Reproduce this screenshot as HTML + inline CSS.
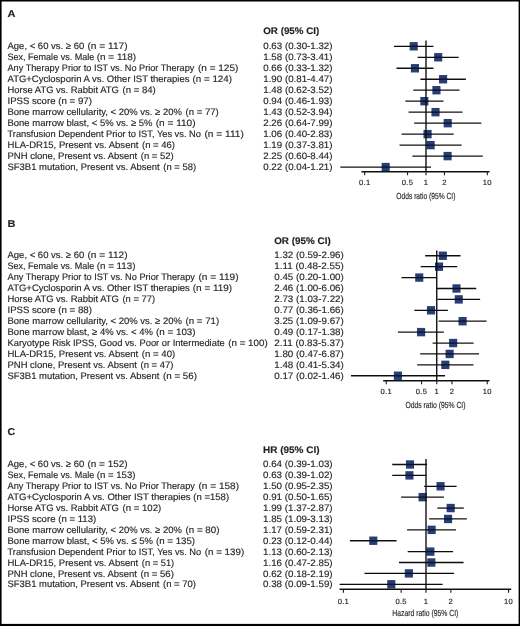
<!DOCTYPE html>
<html><head><meta charset="utf-8"><title>Forest plots</title>
<style>html,body{margin:0;padding:0;background:#fff}svg{display:block}text{font-family:"Liberation Sans",sans-serif;text-rendering:geometricPrecision;fill:#231f20;stroke:#231f20;stroke-width:0.15px}</style></head>
<body><svg width="520" height="626" viewBox="0 0 520 626">
<rect x="0" y="0" width="520" height="626" fill="#fff"/>
<defs><filter id="bl" x="-5" y="-5" width="530" height="636" filterUnits="userSpaceOnUse"><feGaussianBlur stdDeviation="0.45"/></filter></defs>
<g filter="url(#bl)">
<rect x="-4" y="-4" width="528" height="5.5" fill="#000"/><rect x="-4" y="-4" width="5.6" height="634" fill="#000"/><rect x="518.6" y="-4" width="6" height="634" fill="#000"/><rect x="-4" y="623.9" width="528" height="6" fill="#000"/>
<text transform="translate(7.50 16.90) scale(1.100 1)" font-size="10" font-weight="bold" fill="#000" stroke="#000" stroke-width="0.3">A</text>
<text x="263.25" y="34.30" font-size="9.6" font-weight="bold" fill="#000" stroke="#000" stroke-width="0.3" textLength="56.00" lengthAdjust="spacingAndGlyphs">OR (95% CI)</text>
<text x="7.50" y="48.60" font-size="9.40" textLength="76.75" lengthAdjust="spacingAndGlyphs">Age, &lt; 60 vs. ≥ 60</text>
<text x="87.50" y="48.60" font-size="9.40" textLength="40.00" lengthAdjust="spacingAndGlyphs">(n = 117)</text>
<text x="263.25" y="48.60" font-size="9.40" textLength="69.25" lengthAdjust="spacingAndGlyphs">0.63 (0.30-1.32)</text>
<line x1="393.95" y1="46.30" x2="433.39" y2="46.30" stroke="#111" stroke-width="1.3"/>
<rect x="409.65" y="42.10" width="8.10" height="8.40" fill="#112a64" fill-opacity="0.9"/>
<line x1="409.50" y1="46.30" x2="417.90" y2="46.30" stroke="#000" stroke-width="1.3" stroke-opacity="0.55"/>
<text x="7.50" y="59.64" font-size="9.40" textLength="86.75" lengthAdjust="spacingAndGlyphs">Sex, Female vs. Male</text>
<text x="96.75" y="59.64" font-size="9.40" textLength="39.25" lengthAdjust="spacingAndGlyphs">(n = 118)</text>
<text x="263.25" y="59.64" font-size="9.40" textLength="69.25" lengthAdjust="spacingAndGlyphs">1.58 (0.73-3.41)</text>
<line x1="417.62" y1="57.28" x2="458.66" y2="57.28" stroke="#111" stroke-width="1.3"/>
<rect x="434.13" y="53.08" width="8.10" height="8.40" fill="#112a64" fill-opacity="0.9"/>
<line x1="433.98" y1="57.28" x2="442.38" y2="57.28" stroke="#000" stroke-width="1.3" stroke-opacity="0.55"/>
<text x="7.50" y="70.68" font-size="9.40" textLength="186.90" lengthAdjust="spacingAndGlyphs">Any Therapy Prior to IST vs. No Prior Therapy</text>
<text x="198.00" y="70.68" font-size="9.40" textLength="40.30" lengthAdjust="spacingAndGlyphs">(n = 125)</text>
<text x="263.25" y="70.68" font-size="9.40" textLength="69.25" lengthAdjust="spacingAndGlyphs">0.66 (0.33-1.32)</text>
<line x1="396.48" y1="68.26" x2="433.39" y2="68.26" stroke="#111" stroke-width="1.3"/>
<rect x="410.89" y="64.06" width="8.10" height="8.40" fill="#112a64" fill-opacity="0.9"/>
<line x1="410.74" y1="68.26" x2="419.14" y2="68.26" stroke="#000" stroke-width="1.3" stroke-opacity="0.55"/>
<text x="7.50" y="81.72" font-size="9.40" textLength="182.00" lengthAdjust="spacingAndGlyphs">ATG+Cyclosporin A vs. Other IST therapies</text>
<text x="192.50" y="81.72" font-size="9.40" textLength="39.50" lengthAdjust="spacingAndGlyphs">(n = 124)</text>
<text x="263.25" y="81.72" font-size="9.40" textLength="69.25" lengthAdjust="spacingAndGlyphs">1.90 (0.81-4.47)</text>
<line x1="420.39" y1="79.24" x2="465.86" y2="79.24" stroke="#111" stroke-width="1.3"/>
<rect x="439.04" y="75.04" width="8.10" height="8.40" fill="#112a64" fill-opacity="0.9"/>
<line x1="438.89" y1="79.24" x2="447.29" y2="79.24" stroke="#000" stroke-width="1.3" stroke-opacity="0.55"/>
<text x="7.50" y="92.76" font-size="9.40" textLength="111.40" lengthAdjust="spacingAndGlyphs">Horse ATG vs. Rabbit ATG</text>
<text x="122.50" y="92.76" font-size="9.40" textLength="33.25" lengthAdjust="spacingAndGlyphs">(n = 84)</text>
<text x="263.25" y="92.76" font-size="9.40" textLength="69.25" lengthAdjust="spacingAndGlyphs">1.48 (0.62-3.52)</text>
<line x1="413.27" y1="90.22" x2="459.50" y2="90.22" stroke="#111" stroke-width="1.3"/>
<rect x="432.39" y="86.02" width="8.10" height="8.40" fill="#112a64" fill-opacity="0.9"/>
<line x1="432.24" y1="90.22" x2="440.64" y2="90.22" stroke="#000" stroke-width="1.3" stroke-opacity="0.55"/>
<text x="7.50" y="103.80" font-size="9.40" textLength="48.00" lengthAdjust="spacingAndGlyphs">IPSS score</text>
<text x="58.25" y="103.80" font-size="9.40" textLength="33.75" lengthAdjust="spacingAndGlyphs">(n = 97)</text>
<text x="263.25" y="103.80" font-size="9.40" textLength="69.25" lengthAdjust="spacingAndGlyphs">0.94 (0.46-1.93)</text>
<line x1="405.33" y1="101.20" x2="443.50" y2="101.20" stroke="#111" stroke-width="1.3"/>
<rect x="420.30" y="97.00" width="8.10" height="8.40" fill="#112a64" fill-opacity="0.9"/>
<line x1="420.15" y1="101.20" x2="428.55" y2="101.20" stroke="#000" stroke-width="1.3" stroke-opacity="0.55"/>
<text x="7.50" y="114.84" font-size="9.40" textLength="174.40" lengthAdjust="spacingAndGlyphs">Bone marrow cellularity, &lt; 20% vs. ≥ 20%</text>
<text x="185.50" y="114.84" font-size="9.40" textLength="33.25" lengthAdjust="spacingAndGlyphs">(n = 77)</text>
<text x="263.25" y="114.84" font-size="9.40" textLength="69.25" lengthAdjust="spacingAndGlyphs">1.43 (0.52-3.94)</text>
<line x1="408.59" y1="112.18" x2="462.50" y2="112.18" stroke="#111" stroke-width="1.3"/>
<rect x="431.47" y="107.98" width="8.10" height="8.40" fill="#112a64" fill-opacity="0.9"/>
<line x1="431.32" y1="112.18" x2="439.72" y2="112.18" stroke="#000" stroke-width="1.3" stroke-opacity="0.55"/>
<text x="7.50" y="125.88" font-size="9.40" textLength="145.00" lengthAdjust="spacingAndGlyphs">Bone marrow blast, &lt; 5% vs. ≥ 5%</text>
<text x="155.75" y="125.88" font-size="9.40" textLength="39.75" lengthAdjust="spacingAndGlyphs">(n = 110)</text>
<text x="263.25" y="125.88" font-size="9.40" textLength="69.25" lengthAdjust="spacingAndGlyphs">2.26 (0.64-7.99)</text>
<line x1="414.12" y1="123.16" x2="481.33" y2="123.16" stroke="#111" stroke-width="1.3"/>
<rect x="443.66" y="118.96" width="8.10" height="8.40" fill="#112a64" fill-opacity="0.9"/>
<line x1="443.51" y1="123.16" x2="451.91" y2="123.16" stroke="#000" stroke-width="1.3" stroke-opacity="0.55"/>
<text x="7.50" y="136.92" font-size="9.40" textLength="193.40" lengthAdjust="spacingAndGlyphs">Transfusion Dependent Prior to IST, Yes vs. No</text>
<text x="204.50" y="136.92" font-size="9.40" textLength="39.25" lengthAdjust="spacingAndGlyphs">(n = 111)</text>
<text x="263.25" y="136.92" font-size="9.40" textLength="69.25" lengthAdjust="spacingAndGlyphs">1.06 (0.40-2.83)</text>
<line x1="401.61" y1="134.14" x2="453.69" y2="134.14" stroke="#111" stroke-width="1.3"/>
<rect x="423.50" y="129.94" width="8.10" height="8.40" fill="#112a64" fill-opacity="0.9"/>
<line x1="423.35" y1="134.14" x2="431.75" y2="134.14" stroke="#000" stroke-width="1.3" stroke-opacity="0.55"/>
<text x="7.50" y="147.96" font-size="9.40" textLength="130.90" lengthAdjust="spacingAndGlyphs">HLA-DR15, Present vs. Absent</text>
<text x="142.00" y="147.96" font-size="9.40" textLength="33.00" lengthAdjust="spacingAndGlyphs">(n = 46)</text>
<text x="263.25" y="147.96" font-size="9.40" textLength="69.25" lengthAdjust="spacingAndGlyphs">1.19 (0.37-3.81)</text>
<line x1="399.53" y1="145.12" x2="461.61" y2="145.12" stroke="#111" stroke-width="1.3"/>
<rect x="426.58" y="140.92" width="8.10" height="8.40" fill="#112a64" fill-opacity="0.9"/>
<line x1="426.43" y1="145.12" x2="434.83" y2="145.12" stroke="#000" stroke-width="1.3" stroke-opacity="0.55"/>
<text x="7.50" y="159.00" font-size="9.40" textLength="129.65" lengthAdjust="spacingAndGlyphs">PNH clone, Present vs. Absent</text>
<text x="140.75" y="159.00" font-size="9.40" textLength="33.00" lengthAdjust="spacingAndGlyphs">(n = 52)</text>
<text x="263.25" y="159.00" font-size="9.40" textLength="69.25" lengthAdjust="spacingAndGlyphs">2.25 (0.60-8.44)</text>
<line x1="412.40" y1="156.10" x2="482.78" y2="156.10" stroke="#111" stroke-width="1.3"/>
<rect x="443.54" y="151.90" width="8.10" height="8.40" fill="#112a64" fill-opacity="0.9"/>
<line x1="443.39" y1="156.10" x2="451.79" y2="156.10" stroke="#000" stroke-width="1.3" stroke-opacity="0.55"/>
<text x="7.50" y="170.04" font-size="9.40" textLength="152.15" lengthAdjust="spacingAndGlyphs">SF3B1 mutation, Present vs. Absent</text>
<text x="163.25" y="170.04" font-size="9.40" textLength="33.00" lengthAdjust="spacingAndGlyphs">(n = 58)</text>
<text x="263.25" y="170.04" font-size="9.40" textLength="69.25" lengthAdjust="spacingAndGlyphs">0.22 (0.04-1.21)</text>
<line x1="340.31" y1="167.08" x2="431.07" y2="167.08" stroke="#111" stroke-width="1.3"/>
<rect x="381.64" y="162.88" width="8.10" height="8.40" fill="#112a64" fill-opacity="0.9"/>
<line x1="381.49" y1="167.08" x2="389.89" y2="167.08" stroke="#000" stroke-width="1.3" stroke-opacity="0.55"/>
<line x1="426.00" y1="40.50" x2="426.00" y2="171.80" stroke="#111" stroke-width="1.4"/>
<line x1="361.40" y1="171.80" x2="489.50" y2="171.80" stroke="#111" stroke-width="1.4"/>
<line x1="364.70" y1="171.80" x2="364.70" y2="175.30" stroke="#1a1a1a" stroke-width="1.1"/>
<text x="364.70" y="185.30" font-size="7.6" text-anchor="middle" letter-spacing="0.3" stroke-width="0" fill="#333">0.1</text>
<line x1="407.55" y1="171.80" x2="407.55" y2="175.30" stroke="#1a1a1a" stroke-width="1.1"/>
<text x="407.55" y="185.30" font-size="7.6" text-anchor="middle" letter-spacing="0.3" stroke-width="0" fill="#333">0.5</text>
<line x1="426.00" y1="171.80" x2="426.00" y2="175.30" stroke="#1a1a1a" stroke-width="1.1"/>
<text x="426.00" y="185.30" font-size="7.6" text-anchor="middle" letter-spacing="0.3" stroke-width="0" fill="#333">1</text>
<line x1="444.45" y1="171.80" x2="444.45" y2="175.30" stroke="#1a1a1a" stroke-width="1.1"/>
<text x="444.45" y="185.30" font-size="7.6" text-anchor="middle" letter-spacing="0.3" stroke-width="0" fill="#333">2</text>
<line x1="487.30" y1="171.80" x2="487.30" y2="175.30" stroke="#1a1a1a" stroke-width="1.1"/>
<text x="487.30" y="185.30" font-size="7.6" text-anchor="middle" letter-spacing="0.3" stroke-width="0" fill="#333">10</text>
<text x="396.30" y="199.00" font-size="8.8" stroke-width="0.4" textLength="59.10" lengthAdjust="spacingAndGlyphs">Odds ratio (95% CI)</text>
<text transform="translate(7.50 226.70) scale(1.100 1)" font-size="10" font-weight="bold" fill="#000" stroke="#000" stroke-width="0.3">B</text>
<text x="274.20" y="244.20" font-size="9.6" font-weight="bold" fill="#000" stroke="#000" stroke-width="0.3" textLength="56.50" lengthAdjust="spacingAndGlyphs">OR (95% CI)</text>
<text x="7.50" y="258.05" font-size="9.40" textLength="76.75" lengthAdjust="spacingAndGlyphs">Age, &lt; 60 vs. ≥ 60</text>
<text x="87.50" y="258.05" font-size="9.40" textLength="40.00" lengthAdjust="spacingAndGlyphs">(n = 112)</text>
<text x="274.30" y="258.05" font-size="9.40" textLength="69.50" lengthAdjust="spacingAndGlyphs">1.32 (0.59-2.96)</text>
<line x1="425.18" y1="255.75" x2="460.55" y2="255.75" stroke="#111" stroke-width="1.3"/>
<rect x="438.79" y="251.55" width="8.10" height="8.40" fill="#112a64" fill-opacity="0.9"/>
<line x1="438.64" y1="255.75" x2="447.04" y2="255.75" stroke="#000" stroke-width="1.3" stroke-opacity="0.55"/>
<text x="7.50" y="269.03" font-size="9.40" textLength="86.75" lengthAdjust="spacingAndGlyphs">Sex, Female vs. Male</text>
<text x="96.75" y="269.03" font-size="9.40" textLength="38.75" lengthAdjust="spacingAndGlyphs">(n = 113)</text>
<text x="274.30" y="269.03" font-size="9.40" textLength="69.50" lengthAdjust="spacingAndGlyphs">1.11 (0.48-2.55)</text>
<line x1="420.65" y1="266.66" x2="457.28" y2="266.66" stroke="#111" stroke-width="1.3"/>
<rect x="434.99" y="262.46" width="8.10" height="8.40" fill="#112a64" fill-opacity="0.9"/>
<line x1="434.84" y1="266.66" x2="443.24" y2="266.66" stroke="#000" stroke-width="1.3" stroke-opacity="0.55"/>
<text x="7.50" y="280.01" font-size="9.40" textLength="187.40" lengthAdjust="spacingAndGlyphs">Any Therapy Prior to IST vs. No Prior Therapy</text>
<text x="198.50" y="280.01" font-size="9.40" textLength="40.00" lengthAdjust="spacingAndGlyphs">(n = 119)</text>
<text x="274.30" y="280.01" font-size="9.40" textLength="69.50" lengthAdjust="spacingAndGlyphs">0.45 (0.20-1.00)</text>
<line x1="401.45" y1="277.57" x2="436.75" y2="277.57" stroke="#111" stroke-width="1.3"/>
<rect x="415.19" y="273.37" width="8.10" height="8.40" fill="#112a64" fill-opacity="0.9"/>
<line x1="415.04" y1="277.57" x2="423.44" y2="277.57" stroke="#000" stroke-width="1.3" stroke-opacity="0.55"/>
<text x="7.50" y="290.99" font-size="9.40" textLength="182.30" lengthAdjust="spacingAndGlyphs">ATG+Cyclosporin A vs. Other IST therapies</text>
<text x="192.80" y="290.99" font-size="9.40" textLength="39.40" lengthAdjust="spacingAndGlyphs">(n = 119)</text>
<text x="274.30" y="290.99" font-size="9.40" textLength="69.50" lengthAdjust="spacingAndGlyphs">2.46 (1.00-6.06)</text>
<line x1="436.75" y1="288.48" x2="476.26" y2="288.48" stroke="#111" stroke-width="1.3"/>
<rect x="452.44" y="284.28" width="8.10" height="8.40" fill="#112a64" fill-opacity="0.9"/>
<line x1="452.29" y1="288.48" x2="460.69" y2="288.48" stroke="#000" stroke-width="1.3" stroke-opacity="0.55"/>
<text x="7.50" y="301.97" font-size="9.40" textLength="111.40" lengthAdjust="spacingAndGlyphs">Horse ATG vs. Rabbit ATG</text>
<text x="122.50" y="301.97" font-size="9.40" textLength="32.50" lengthAdjust="spacingAndGlyphs">(n = 77)</text>
<text x="274.30" y="301.97" font-size="9.40" textLength="69.50" lengthAdjust="spacingAndGlyphs">2.73 (1.03-7.22)</text>
<line x1="437.40" y1="299.39" x2="480.11" y2="299.39" stroke="#111" stroke-width="1.3"/>
<rect x="454.73" y="295.19" width="8.10" height="8.40" fill="#112a64" fill-opacity="0.9"/>
<line x1="454.58" y1="299.39" x2="462.98" y2="299.39" stroke="#000" stroke-width="1.3" stroke-opacity="0.55"/>
<text x="7.50" y="312.95" font-size="9.40" textLength="48.00" lengthAdjust="spacingAndGlyphs">IPSS score</text>
<text x="58.25" y="312.95" font-size="9.40" textLength="33.75" lengthAdjust="spacingAndGlyphs">(n = 88)</text>
<text x="274.30" y="312.95" font-size="9.40" textLength="69.50" lengthAdjust="spacingAndGlyphs">0.77 (0.36-1.66)</text>
<line x1="414.34" y1="310.30" x2="447.87" y2="310.30" stroke="#111" stroke-width="1.3"/>
<rect x="426.97" y="306.10" width="8.10" height="8.40" fill="#112a64" fill-opacity="0.9"/>
<line x1="426.82" y1="310.30" x2="435.22" y2="310.30" stroke="#000" stroke-width="1.3" stroke-opacity="0.55"/>
<text x="7.50" y="323.93" font-size="9.40" textLength="174.40" lengthAdjust="spacingAndGlyphs">Bone marrow cellularity, &lt; 20% vs. ≥ 20%</text>
<text x="185.50" y="323.93" font-size="9.40" textLength="33.70" lengthAdjust="spacingAndGlyphs">(n = 71)</text>
<text x="274.30" y="323.93" font-size="9.40" textLength="69.50" lengthAdjust="spacingAndGlyphs">3.25 (1.09-9.67)</text>
<line x1="438.64" y1="321.21" x2="486.51" y2="321.21" stroke="#111" stroke-width="1.3"/>
<rect x="458.55" y="317.01" width="8.10" height="8.40" fill="#112a64" fill-opacity="0.9"/>
<line x1="458.40" y1="321.21" x2="466.80" y2="321.21" stroke="#000" stroke-width="1.3" stroke-opacity="0.55"/>
<text x="7.50" y="334.91" font-size="9.40" textLength="145.50" lengthAdjust="spacingAndGlyphs">Bone marrow blast, ≥ 4% vs. &lt; 4%</text>
<text x="156.00" y="334.91" font-size="9.40" textLength="39.60" lengthAdjust="spacingAndGlyphs">(n = 103)</text>
<text x="274.30" y="334.91" font-size="9.40" textLength="69.50" lengthAdjust="spacingAndGlyphs">0.49 (0.17-1.38)</text>
<line x1="397.89" y1="332.12" x2="443.81" y2="332.12" stroke="#111" stroke-width="1.3"/>
<rect x="417.05" y="327.92" width="8.10" height="8.40" fill="#112a64" fill-opacity="0.9"/>
<line x1="416.90" y1="332.12" x2="425.30" y2="332.12" stroke="#000" stroke-width="1.3" stroke-opacity="0.55"/>
<text x="7.50" y="345.89" font-size="9.40" textLength="217.20" lengthAdjust="spacingAndGlyphs">Karyotype Risk IPSS, Good vs. Poor or Intermediate</text>
<text x="228.30" y="345.89" font-size="9.40" textLength="39.40" lengthAdjust="spacingAndGlyphs">(n = 100)</text>
<text x="274.30" y="345.89" font-size="9.40" textLength="69.50" lengthAdjust="spacingAndGlyphs">2.11 (0.83-5.37)</text>
<line x1="432.66" y1="343.03" x2="473.61" y2="343.03" stroke="#111" stroke-width="1.3"/>
<rect x="449.08" y="338.83" width="8.10" height="8.40" fill="#112a64" fill-opacity="0.9"/>
<line x1="448.93" y1="343.03" x2="457.33" y2="343.03" stroke="#000" stroke-width="1.3" stroke-opacity="0.55"/>
<text x="7.50" y="356.87" font-size="9.40" textLength="130.70" lengthAdjust="spacingAndGlyphs">HLA-DR15, Present vs. Absent</text>
<text x="141.80" y="356.87" font-size="9.40" textLength="33.40" lengthAdjust="spacingAndGlyphs">(n = 40)</text>
<text x="274.30" y="356.87" font-size="9.40" textLength="69.50" lengthAdjust="spacingAndGlyphs">1.80 (0.47-6.87)</text>
<line x1="420.19" y1="353.94" x2="479.02" y2="353.94" stroke="#111" stroke-width="1.3"/>
<rect x="445.59" y="349.74" width="8.10" height="8.40" fill="#112a64" fill-opacity="0.9"/>
<line x1="445.44" y1="353.94" x2="453.84" y2="353.94" stroke="#000" stroke-width="1.3" stroke-opacity="0.55"/>
<text x="7.50" y="367.85" font-size="9.40" textLength="129.40" lengthAdjust="spacingAndGlyphs">PNH clone, Present vs. Absent</text>
<text x="140.50" y="367.85" font-size="9.40" textLength="32.90" lengthAdjust="spacingAndGlyphs">(n = 47)</text>
<text x="274.30" y="367.85" font-size="9.40" textLength="69.50" lengthAdjust="spacingAndGlyphs">1.48 (0.41-5.34)</text>
<line x1="417.20" y1="364.85" x2="473.49" y2="364.85" stroke="#111" stroke-width="1.3"/>
<rect x="441.30" y="360.65" width="8.10" height="8.40" fill="#112a64" fill-opacity="0.9"/>
<line x1="441.15" y1="364.85" x2="449.55" y2="364.85" stroke="#000" stroke-width="1.3" stroke-opacity="0.55"/>
<text x="7.50" y="378.83" font-size="9.40" textLength="151.90" lengthAdjust="spacingAndGlyphs">SF3B1 mutation, Present vs. Absent</text>
<text x="163.00" y="378.83" font-size="9.40" textLength="33.90" lengthAdjust="spacingAndGlyphs">(n = 56)</text>
<text x="274.30" y="378.83" font-size="9.40" textLength="69.50" lengthAdjust="spacingAndGlyphs">0.17 (0.02-1.46)</text>
<line x1="350.95" y1="375.76" x2="445.05" y2="375.76" stroke="#111" stroke-width="1.3"/>
<rect x="393.84" y="371.56" width="8.10" height="8.40" fill="#112a64" fill-opacity="0.9"/>
<line x1="393.69" y1="375.76" x2="402.09" y2="375.76" stroke="#000" stroke-width="1.3" stroke-opacity="0.55"/>
<line x1="436.75" y1="250.50" x2="436.75" y2="380.80" stroke="#111" stroke-width="1.4"/>
<line x1="383.20" y1="380.80" x2="489.50" y2="380.80" stroke="#111" stroke-width="1.4"/>
<line x1="386.25" y1="380.80" x2="386.25" y2="384.30" stroke="#1a1a1a" stroke-width="1.1"/>
<text x="386.25" y="394.30" font-size="7.6" text-anchor="middle" letter-spacing="0.3" stroke-width="0" fill="#333">0.1</text>
<line x1="421.55" y1="380.80" x2="421.55" y2="384.30" stroke="#1a1a1a" stroke-width="1.1"/>
<text x="421.55" y="394.30" font-size="7.6" text-anchor="middle" letter-spacing="0.3" stroke-width="0" fill="#333">0.5</text>
<line x1="436.75" y1="380.80" x2="436.75" y2="384.30" stroke="#1a1a1a" stroke-width="1.1"/>
<text x="436.75" y="394.30" font-size="7.6" text-anchor="middle" letter-spacing="0.3" stroke-width="0" fill="#333">1</text>
<line x1="451.95" y1="380.80" x2="451.95" y2="384.30" stroke="#1a1a1a" stroke-width="1.1"/>
<text x="451.95" y="394.30" font-size="7.6" text-anchor="middle" letter-spacing="0.3" stroke-width="0" fill="#333">2</text>
<line x1="487.25" y1="380.80" x2="487.25" y2="384.30" stroke="#1a1a1a" stroke-width="1.1"/>
<text x="487.25" y="394.30" font-size="7.6" text-anchor="middle" letter-spacing="0.3" stroke-width="0" fill="#333">10</text>
<text x="405.40" y="407.70" font-size="8.8" stroke-width="0.4" textLength="60.10" lengthAdjust="spacingAndGlyphs">Odds ratio (95% CI)</text>
<text transform="translate(7.50 435.00) scale(1.050 1)" font-size="10" font-weight="bold" fill="#000" stroke="#000" stroke-width="0.3">C</text>
<text x="263.00" y="452.90" font-size="9.6" font-weight="bold" fill="#000" stroke="#000" stroke-width="0.3" textLength="56.50" lengthAdjust="spacingAndGlyphs">HR (95% CI)</text>
<text x="7.50" y="467.00" font-size="9.40" textLength="76.75" lengthAdjust="spacingAndGlyphs">Age, &lt; 60 vs. ≥ 60</text>
<text x="87.50" y="467.00" font-size="9.40" textLength="40.00" lengthAdjust="spacingAndGlyphs">(n = 152)</text>
<text x="263.00" y="467.00" font-size="9.40" textLength="69.60" lengthAdjust="spacingAndGlyphs">0.64 (0.39-1.03)</text>
<line x1="392.22" y1="464.50" x2="427.06" y2="464.50" stroke="#111" stroke-width="1.3"/>
<rect x="405.94" y="460.30" width="8.10" height="8.40" fill="#112a64" fill-opacity="0.9"/>
<line x1="405.79" y1="464.50" x2="414.19" y2="464.50" stroke="#000" stroke-width="1.3" stroke-opacity="0.55"/>
<text x="7.50" y="477.95" font-size="9.40" textLength="86.75" lengthAdjust="spacingAndGlyphs">Sex, Female vs. Male</text>
<text x="96.75" y="477.95" font-size="9.40" textLength="38.75" lengthAdjust="spacingAndGlyphs">(n = 153)</text>
<text x="263.00" y="477.95" font-size="9.40" textLength="69.60" lengthAdjust="spacingAndGlyphs">0.63 (0.39-1.02)</text>
<line x1="392.22" y1="475.39" x2="426.71" y2="475.39" stroke="#111" stroke-width="1.3"/>
<rect x="405.38" y="471.19" width="8.10" height="8.40" fill="#112a64" fill-opacity="0.9"/>
<line x1="405.23" y1="475.39" x2="413.63" y2="475.39" stroke="#000" stroke-width="1.3" stroke-opacity="0.55"/>
<text x="7.50" y="488.90" font-size="9.40" textLength="187.40" lengthAdjust="spacingAndGlyphs">Any Therapy Prior to IST vs. No Prior Therapy</text>
<text x="198.50" y="488.90" font-size="9.40" textLength="40.50" lengthAdjust="spacingAndGlyphs">(n = 158)</text>
<text x="263.00" y="488.90" font-size="9.40" textLength="69.60" lengthAdjust="spacingAndGlyphs">1.50 (0.95-2.35)</text>
<line x1="424.16" y1="486.28" x2="456.65" y2="486.28" stroke="#111" stroke-width="1.3"/>
<rect x="436.50" y="482.08" width="8.10" height="8.40" fill="#112a64" fill-opacity="0.9"/>
<line x1="436.35" y1="486.28" x2="444.75" y2="486.28" stroke="#000" stroke-width="1.3" stroke-opacity="0.55"/>
<text x="7.50" y="499.85" font-size="9.40" textLength="183.10" lengthAdjust="spacingAndGlyphs">ATG+Cyclosporin A vs. Other IST therapies</text>
<text x="193.30" y="499.85" font-size="9.40" textLength="35.80" lengthAdjust="spacingAndGlyphs">(n =158)</text>
<text x="263.00" y="499.85" font-size="9.40" textLength="69.60" lengthAdjust="spacingAndGlyphs">0.91 (0.50-1.65)</text>
<line x1="401.13" y1="497.17" x2="443.96" y2="497.17" stroke="#111" stroke-width="1.3"/>
<rect x="418.57" y="492.97" width="8.10" height="8.40" fill="#112a64" fill-opacity="0.9"/>
<line x1="418.42" y1="497.17" x2="426.82" y2="497.17" stroke="#000" stroke-width="1.3" stroke-opacity="0.55"/>
<text x="7.50" y="510.80" font-size="9.40" textLength="111.40" lengthAdjust="spacingAndGlyphs">Horse ATG vs. Rabbit ATG</text>
<text x="122.50" y="510.80" font-size="9.40" textLength="38.70" lengthAdjust="spacingAndGlyphs">(n = 102)</text>
<text x="263.00" y="510.80" font-size="9.40" textLength="69.60" lengthAdjust="spacingAndGlyphs">1.99 (1.37-2.87)</text>
<line x1="437.29" y1="508.06" x2="463.82" y2="508.06" stroke="#111" stroke-width="1.3"/>
<rect x="446.64" y="503.86" width="8.10" height="8.40" fill="#112a64" fill-opacity="0.9"/>
<line x1="446.49" y1="508.06" x2="454.89" y2="508.06" stroke="#000" stroke-width="1.3" stroke-opacity="0.55"/>
<text x="7.50" y="521.75" font-size="9.40" textLength="48.00" lengthAdjust="spacingAndGlyphs">IPSS score</text>
<text x="58.25" y="521.75" font-size="9.40" textLength="38.00" lengthAdjust="spacingAndGlyphs">(n = 113)</text>
<text x="263.00" y="521.75" font-size="9.40" textLength="69.60" lengthAdjust="spacingAndGlyphs">1.85 (1.09-3.13)</text>
<line x1="429.09" y1="518.95" x2="466.93" y2="518.95" stroke="#111" stroke-width="1.3"/>
<rect x="444.02" y="514.75" width="8.10" height="8.40" fill="#112a64" fill-opacity="0.9"/>
<line x1="443.87" y1="518.95" x2="452.27" y2="518.95" stroke="#000" stroke-width="1.3" stroke-opacity="0.55"/>
<text x="7.50" y="532.70" font-size="9.40" textLength="174.40" lengthAdjust="spacingAndGlyphs">Bone marrow cellularity, &lt; 20% vs. ≥ 20%</text>
<text x="185.50" y="532.70" font-size="9.40" textLength="33.90" lengthAdjust="spacingAndGlyphs">(n = 80)</text>
<text x="263.00" y="532.70" font-size="9.40" textLength="69.60" lengthAdjust="spacingAndGlyphs">1.17 (0.59-2.31)</text>
<line x1="407.07" y1="529.84" x2="456.03" y2="529.84" stroke="#111" stroke-width="1.3"/>
<rect x="427.58" y="525.64" width="8.10" height="8.40" fill="#112a64" fill-opacity="0.9"/>
<line x1="427.43" y1="529.84" x2="435.83" y2="529.84" stroke="#000" stroke-width="1.3" stroke-opacity="0.55"/>
<text x="7.50" y="543.65" font-size="9.40" textLength="145.50" lengthAdjust="spacingAndGlyphs">Bone marrow blast, &lt; 5% vs. ≤ 5%</text>
<text x="156.00" y="543.65" font-size="9.40" textLength="39.10" lengthAdjust="spacingAndGlyphs">(n = 135)</text>
<text x="263.00" y="543.65" font-size="9.40" textLength="69.60" lengthAdjust="spacingAndGlyphs">0.23 (0.12-0.44)</text>
<line x1="349.94" y1="540.73" x2="396.55" y2="540.73" stroke="#111" stroke-width="1.3"/>
<rect x="369.23" y="536.53" width="8.10" height="8.40" fill="#112a64" fill-opacity="0.9"/>
<line x1="369.08" y1="540.73" x2="377.48" y2="540.73" stroke="#000" stroke-width="1.3" stroke-opacity="0.55"/>
<text x="7.50" y="554.60" font-size="9.40" textLength="193.70" lengthAdjust="spacingAndGlyphs">Transfusion Dependent Prior to IST, Yes vs. No</text>
<text x="204.80" y="554.60" font-size="9.40" textLength="39.40" lengthAdjust="spacingAndGlyphs">(n = 139)</text>
<text x="263.00" y="554.60" font-size="9.40" textLength="69.60" lengthAdjust="spacingAndGlyphs">1.13 (0.60-2.13)</text>
<line x1="407.68" y1="551.62" x2="453.12" y2="551.62" stroke="#111" stroke-width="1.3"/>
<rect x="426.33" y="547.42" width="8.10" height="8.40" fill="#112a64" fill-opacity="0.9"/>
<line x1="426.18" y1="551.62" x2="434.58" y2="551.62" stroke="#000" stroke-width="1.3" stroke-opacity="0.55"/>
<text x="7.50" y="565.55" font-size="9.40" textLength="130.70" lengthAdjust="spacingAndGlyphs">HLA-DR15, Present vs. Absent</text>
<text x="141.80" y="565.55" font-size="9.40" textLength="32.40" lengthAdjust="spacingAndGlyphs">(n = 51)</text>
<text x="263.00" y="565.55" font-size="9.40" textLength="69.60" lengthAdjust="spacingAndGlyphs">1.16 (0.47-2.85)</text>
<line x1="398.92" y1="562.51" x2="463.57" y2="562.51" stroke="#111" stroke-width="1.3"/>
<rect x="427.27" y="558.31" width="8.10" height="8.40" fill="#112a64" fill-opacity="0.9"/>
<line x1="427.12" y1="562.51" x2="435.52" y2="562.51" stroke="#000" stroke-width="1.3" stroke-opacity="0.55"/>
<text x="7.50" y="576.50" font-size="9.40" textLength="129.40" lengthAdjust="spacingAndGlyphs">PNH clone, Present vs. Absent</text>
<text x="140.50" y="576.50" font-size="9.40" textLength="33.40" lengthAdjust="spacingAndGlyphs">(n = 56)</text>
<text x="263.00" y="576.50" font-size="9.40" textLength="69.60" lengthAdjust="spacingAndGlyphs">0.62 (0.18-2.19)</text>
<line x1="364.49" y1="573.40" x2="454.12" y2="573.40" stroke="#111" stroke-width="1.3"/>
<rect x="404.80" y="569.20" width="8.10" height="8.40" fill="#112a64" fill-opacity="0.9"/>
<line x1="404.65" y1="573.40" x2="413.05" y2="573.40" stroke="#000" stroke-width="1.3" stroke-opacity="0.55"/>
<text x="7.50" y="587.45" font-size="9.40" textLength="151.90" lengthAdjust="spacingAndGlyphs">SF3B1 mutation, Present vs. Absent</text>
<text x="163.00" y="587.45" font-size="9.40" textLength="32.90" lengthAdjust="spacingAndGlyphs">(n = 70)</text>
<text x="263.00" y="587.45" font-size="9.40" textLength="69.60" lengthAdjust="spacingAndGlyphs">0.38 (0.09-1.59)</text>
<line x1="339.62" y1="584.29" x2="442.64" y2="584.29" stroke="#111" stroke-width="1.3"/>
<rect x="387.24" y="580.09" width="8.10" height="8.40" fill="#112a64" fill-opacity="0.9"/>
<line x1="387.09" y1="584.29" x2="395.49" y2="584.29" stroke="#000" stroke-width="1.3" stroke-opacity="0.55"/>
<line x1="426.00" y1="458.90" x2="426.00" y2="589.30" stroke="#111" stroke-width="1.4"/>
<line x1="339.50" y1="589.30" x2="511.20" y2="589.30" stroke="#111" stroke-width="1.4"/>
<line x1="343.40" y1="589.30" x2="343.40" y2="592.80" stroke="#1a1a1a" stroke-width="1.1"/>
<text x="343.40" y="603.50" font-size="7.6" text-anchor="middle" letter-spacing="0.3" stroke-width="0" fill="#333">0.1</text>
<line x1="401.13" y1="589.30" x2="401.13" y2="592.80" stroke="#1a1a1a" stroke-width="1.1"/>
<text x="401.13" y="603.50" font-size="7.6" text-anchor="middle" letter-spacing="0.3" stroke-width="0" fill="#333">0.5</text>
<line x1="426.00" y1="589.30" x2="426.00" y2="592.80" stroke="#1a1a1a" stroke-width="1.1"/>
<text x="426.00" y="603.50" font-size="7.6" text-anchor="middle" letter-spacing="0.3" stroke-width="0" fill="#333">1</text>
<line x1="450.87" y1="589.30" x2="450.87" y2="592.80" stroke="#1a1a1a" stroke-width="1.1"/>
<text x="450.87" y="603.50" font-size="7.6" text-anchor="middle" letter-spacing="0.3" stroke-width="0" fill="#333">2</text>
<line x1="508.60" y1="589.30" x2="508.60" y2="592.80" stroke="#1a1a1a" stroke-width="1.1"/>
<text x="508.60" y="603.50" font-size="7.6" text-anchor="middle" letter-spacing="0.3" stroke-width="0" fill="#333">10</text>
<text x="392.30" y="616.00" font-size="8.8" stroke-width="0.4" textLength="66.10" lengthAdjust="spacingAndGlyphs">Hazard ratio (95% CI)</text>
</g></svg></body></html>
